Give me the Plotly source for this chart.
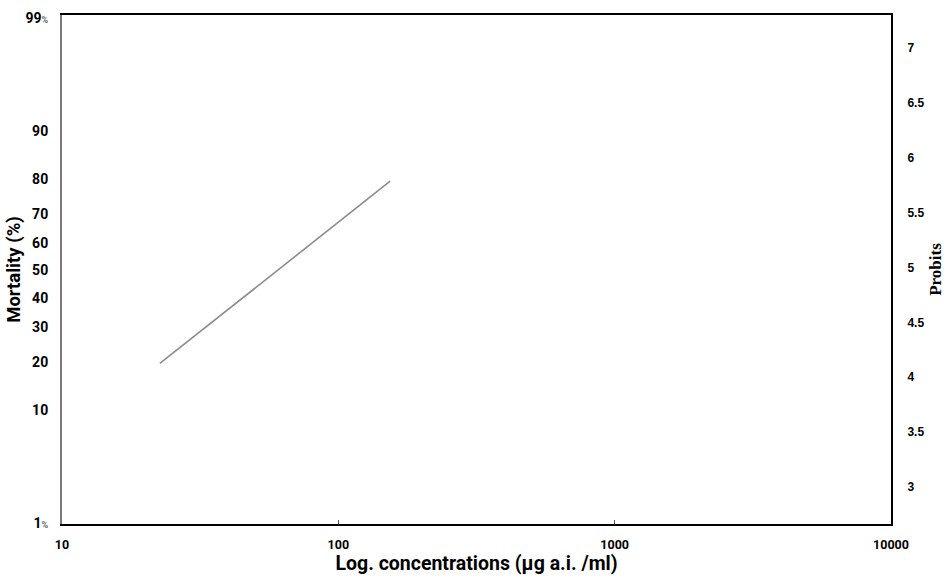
import plotly.graph_objects as go
from statistics import NormalDist

# Data
conc = [22.6, 154.0]           # µg a.i./ml
mortality = [19.6, 79.5]       # %
mort_ticks = [1, 10, 20, 30, 40, 50, 60, 70, 80, 90, 99]
mort_labels = ["1<span style='font-size:9px;color:#666'>%</span>", "10", "20", "30", "40", "50",
               "60", "70", "80", "90", "99<span style='font-size:9px;color:#666'>%</span>"]
probit_ticks = [3, 3.5, 4, 4.5, 5, 5.5, 6, 6.5, 7]
probit_labels = ["3", "3.5", "4", "4.5", "5", "5.5", "6", "6.5", "7"]
x_ticks = [10, 100, 1000, 10000]
x_labels = ["10", "100", "1000", "10000"]

nd = NormalDist()
def probit(p):
    return nd.inv_cdf(p / 100.0) + 5

fig = go.Figure()
fig.add_trace(go.Scatter(
    x=conc, y=[probit(m) for m in mortality], mode="lines",
    line=dict(color="#8c8c8c", width=1.6), showlegend=False, hoverinfo="skip"))
# invisible trace to activate yaxis2
fig.add_trace(go.Scatter(x=[10], y=[5], yaxis="y2", mode="markers",
                         marker=dict(opacity=0), showlegend=False, hoverinfo="skip"))

fig.update_layout(
    width=945, height=578,
    margin=dict(l=62, r=54, t=15, b=54, autoexpand=False),
    paper_bgcolor="white", plot_bgcolor="white",
    xaxis=dict(
        type="log", range=[1, 4], automargin=False,
        tickvals=x_ticks, ticktext=x_labels,
        ticks="inside", ticklen=4, tickcolor="#555",
        showline=True, linecolor="black", linewidth=2, mirror=True,
        showgrid=False, zeroline=False,
        tickfont=dict(family="Roboto", size=12.5, color="black", weight=700),
        ticklabelstandoff=8,
        title=dict(text="Log. concentrations (µg a.i. /ml)",
                   font=dict(family="Roboto", size=19.5, color="black", weight=700), standoff=5),
    ),
    yaxis=dict(
        range=[2.665, 7.355], automargin=False,
        tickvals=[probit(m) for m in mort_ticks],
        ticktext=mort_labels,
        ticks="", showline=True, linecolor="#7a7a7a", linewidth=2,
        showgrid=False, zeroline=False,
        tickfont=dict(family="Roboto", size=14, color="black", weight=700),
        ticklabelstandoff=9,
        title=dict(text="Mortality (%)",
                   font=dict(family="Roboto", size=18.5, color="black", weight=700), standoff=0),
    ),
    yaxis2=dict(
        overlaying="y", side="right", automargin=False,
        range=[2.663, 7.30],
        tickvals=probit_ticks, ticktext=["<b>" + t + "</b>" for t in probit_labels],
        ticks="", showline=True, linecolor="black", linewidth=2,
        showgrid=False, zeroline=False,
        tickfont=dict(family="Liberation Sans", size=12, color="black"),
        ticklabelstandoff=12,
        title=dict(text="<b>Probits</b>",
                   font=dict(family="Liberation Serif", size=17, color="black"), standoff=6),
    ),
)

fig.write_html("out.html", config={"displayModeBar": False},
               post_script="document.body.style.margin='0';document.body.style.overflow='hidden';")
